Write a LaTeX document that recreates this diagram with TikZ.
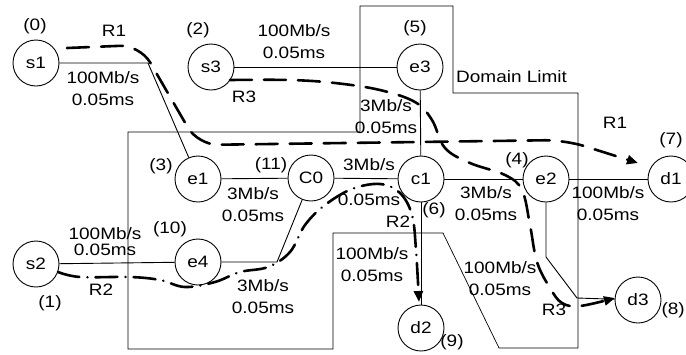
\documentclass[tikz,border=0pt]{standalone}
\usepackage{fontspec}
\setmainfont{Liberation Sans}[FakeStretch=1.15]
\usetikzlibrary{arrows.meta}
\begin{document}
\begin{tikzpicture}[x=1pt,y=-1pt,
 every node/.style={font=\fontsize{16.5}{22}\selectfont},
 nd/.style={circle,draw,line width=0.9pt,minimum size=46pt,inner sep=0pt},
 lbl/.style={align=center,inner sep=0pt},
 lnk/.style={line width=0.9pt},
 domline/.style={line width=0.7pt},
 rdash/.style={line width=2.6pt,line cap=round,dash pattern=on 22pt off 12pt},
 rdot/.style={line width=2.6pt,line cap=round,dash pattern=on 22pt off 8pt on 0.1pt off 8pt},
 arrowtip/.style={-{Triangle[length=11pt,width=9pt]}}
]
\useasboundingbox[fill=white] (0,0) rectangle (686,354);

% domain limit
\draw[domline] (128,132) -- (360,132) -- (360,6) -- (453,6) -- (453,93) -- (578,93)
  -- (578,348) -- (499,348) -- (443,233) -- (333,233) -- (333,349) -- (128,349) -- cycle;
\node[lbl,anchor=west] (dl) at (456,77) {Domain Limit};

% nodes
\node[nd] (s1) at (36,63) {s1};
\node[nd] (s2) at (36,264) {s2};
\node[nd] (s3) at (211,67) {s3};
\node[nd] (e3) at (420,67) {e3};
\node[nd] (e1) at (198,179) {e1};
\node[nd] (c0) at (311,178) {C0};
\node[nd] (c1) at (421,179) {c1};
\node[nd] (e2) at (546,179) {e2};
\node[nd] (d1) at (671,179) {d1};
\node[nd] (e4) at (198,262) {e4};
\node[nd] (d2) at (421,328) {d2};
\node[nd] (d3) at (638,300) {d3};

% bend points
\coordinate (k1) at (148,63);
\coordinate (k2) at (277,262);
\coordinate (k3) at (546,257);
\coordinate (k4) at (577,298);

% links
\draw[lnk] (s1) -- (k1) -- (e1);
\draw[lnk] (s3) -- (e3);
\draw[lnk] (e3) -- (c1);
\draw[lnk] (e1) -- (c0);
\draw[lnk] (c0) -- (c1);
\draw[lnk] (c1) -- (e2);
\draw[lnk] (e2) -- (d1);
\draw[lnk] (s2) -- (e4);
\draw[lnk] (e4) -- (k2) -- (c0);
\draw[lnk] (c1) -- (d2);
\draw[lnk] (e2) -- (k3) -- (k4) -- (d3);

% index labels
\node[lbl] (i0) at (35,26) {(0)};
\node[lbl] (i1) at (50,303) {(1)};
\node[lbl] (i2) at (198,30) {(2)};
\node[lbl] (i3) at (161,166) {(3)};
\node[lbl] (i4) at (517,160) {(4)};
\node[lbl] (i5) at (415,28) {(5)};
\node[lbl] (i6) at (434,210) {(6)};
\node[lbl] (i7) at (671,140) {(7)};
\node[lbl,anchor=east] (i8) at (685,310) {(8)};
\node[lbl] (i9) at (452,342) {(9)};
\node[lbl] (i10) at (170,229) {(10)};
\node[lbl] (i11) at (271,165) {(11)};

% link labels
\node[lbl] (l1) at (103,89) {100Mb/s\\0.05ms};
\node[lbl] (l2) at (294,42) {100Mb/s\\0.05ms};
\node[lbl] (l3) at (386,117) {3Mb/s\\0.05ms};
\node[lbl] (l4) at (253,205) {3Mb/s\\0.05ms};
\node[lbl] (l5) at (369,182) {3Mb/s\\[13pt]0.05ms};
\node[lbl] (l6) at (486,204) {3Mb/s\\0.05ms};
\node[lbl] (l7) at (608,204) {100Mb/s\\0.05ms};
\node[lbl] (l8) at (372,265) {100Mb/s\\0.05ms};
\node[lbl] (l9) at (263,297) {3Mb/s\\0.05ms};
\node[lbl] (l10) at (105,242) {100Mb/s\\[-6pt]0.05ms};
\node[lbl] (l11) at (500,279) {100Mb/s\\0.05ms};

% route labels
\node[lbl] (r1a) at (114,31) {R1};
\node[lbl] (r1b) at (615,123) {R1};
\node[lbl] (r2a) at (101,290) {R2};
\node[lbl] (r2b) at (398,222) {R2};
\node[lbl] (r3a) at (244,97) {R3};
\node[lbl] (r3b) at (554,310) {R3};

% routes
\coordinate (r1s) at (67,48);
\coordinate (r1e) at (638,163);
\draw[rdash,arrowtip,rounded corners=20pt] (r1s) -- (140,45) -- (198,145) -- (565,140) -- (r1e);

\draw[rdot,arrowtip] plot[smooth,tension=0.6] coordinates {(58,272) (80,277) (130,277) (160,280) (185,287) (215,282) (240,272) (268,267) (290,252) (305,225) (325,205) (352,189) (380,184) (400,193) (412,215) (416,250) (419,302)};

\draw[rdash,arrowtip] plot[smooth,tension=0.6] coordinates {(230,80) (290,80) (335,83) (380,90) (415,102) (432,120) (445,148) (470,163) (505,175) (522,190) (530,225) (537,262) (550,288) (562,303) (580,306) (615,298)};
\end{tikzpicture}
\end{document}
